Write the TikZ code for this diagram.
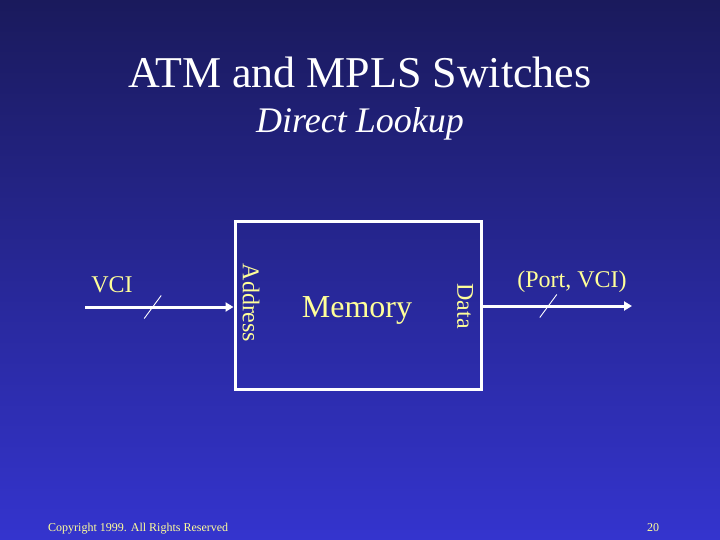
\documentclass[tikz,border=0pt]{standalone}
\usepackage{fontspec}
\setmainfont{Liberation Serif}
\usetikzlibrary{positioning, arrows.meta}

\definecolor{slidetop}{RGB}{26,26,92}
\definecolor{slidebot}{RGB}{52,52,206}
\definecolor{paleyellow}{RGB}{255,255,153}

\begin{document}
\begin{tikzpicture}[
  x=1pt, y=-1pt,
  fs/.style={font=\fontsize{#1}{#1}\selectfont},
  label/.style={fs=24, text=paleyellow, inner sep=0pt},
  feed/.style={draw=white, line width=3pt,
               -{Triangle[length=8pt, width=9pt]}},
  slash/.style={draw=white, line width=0.9pt}
]

% ── Background ───────────────────────────────────────────────────────────────
\shade[top color=slidetop, bottom color=slidebot]
  (0,0) rectangle (720,540);
\useasboundingbox (0,0) rectangle (720,540);

% ── Title ────────────────────────────────────────────────────────────────────
\node[fs=44, text=white, anchor=base] (title) at (360,88)
  {ATM and MPLS Switches};
\node[fs=36, text=white, anchor=base] (subtitle) at (360,133)
  {\itshape Direct Lookup};

% ── Memory block ─────────────────────────────────────────────────────────────
\node[draw=white, line width=3pt, minimum width=246pt, minimum height=167pt,
      inner sep=0pt] (mem) at (358,305.5) {};
\node[fs=32, text=paleyellow, anchor=base] (memlab) at (357,317) {Memory};
\node[label, rotate=-90] (addr) at (251,303) {Address};
\node[label, rotate=-90] (data) at (465,306) {Data};

% ── Input: VCI ───────────────────────────────────────────────────────────────
\coordinate (vciin) at (85,307);
\node[label, anchor=base] (vcilab) at (112,292) {VCI};
\draw[feed] (vciin) -- (vciin -| mem.west)
  coordinate[pos=0.456] (vcimid);
\draw[slash] ([shift={(-8.5,11.5)}]vcimid) -- ([shift={(8.5,-11.5)}]vcimid);

% ── Output: (Port, VCI) ──────────────────────────────────────────────────────
\coordinate (outend) at (632,306);
\node[label, anchor=base] (outlab) at (572,287) {(Port, VCI)};
\draw[feed] (outend -| mem.east) -- (outend)
  coordinate[pos=0.44] (outmid);
\draw[slash] ([shift={(-8.5,11.5)}]outmid) -- ([shift={(8.5,-11.5)}]outmid);

% ── Footer ───────────────────────────────────────────────────────────────────
\node[fs=12, text=paleyellow, anchor=base west, inner sep=0pt] (copy)
  at (48,531) {Copyright 1999. All Rights Reserved};
\node[fs=12, text=paleyellow, anchor=base, inner sep=0pt] (pageno)
  at (653,531) {20};

\end{tikzpicture}
\end{document}
